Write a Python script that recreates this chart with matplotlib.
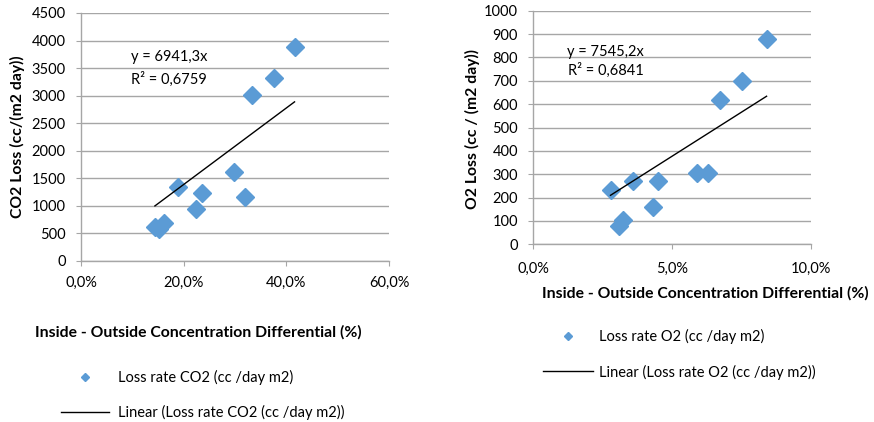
import matplotlib
matplotlib.use("Agg")
import matplotlib.pyplot as plt
from matplotlib.lines import Line2D
from matplotlib.ticker import FuncFormatter

plt.rcParams['font.family'] = ['Lato', 'DejaVu Sans']

# CO2 data (x: concentration differential fraction, y: loss cc/(m2 day))
co2_x = [0.416, 0.375, 0.334, 0.299, 0.319, 0.235, 0.224, 0.188, 0.161, 0.144, 0.152]
co2_y = [3890, 3327, 3013, 1621, 1168, 1228, 938, 1349, 690, 620, 580]
co2_slope = 6941.3
co2_eq = "y = 6941,3x"
co2_r2 = "R² = 0,6759"

# O2 data
o2_x = [0.0840, 0.0750, 0.0672, 0.0588, 0.0630, 0.0450, 0.0360, 0.0432, 0.0322, 0.0307, 0.0278]
o2_y = [877, 699, 618, 307, 307, 271, 271, 158, 104, 78, 233]
o2_slope = 7545.2
o2_eq = "y = 7545,2x"
o2_r2 = "R² = 0,6841"

co2_xticks = [0.0, 0.2, 0.4, 0.6]
co2_yticks = list(range(0, 4501, 500))
o2_xticks = [0.0, 0.05, 0.10]
o2_yticks = list(range(0, 1001, 100))

BLUE = '#5B9BD5'
GRID = '#A6A6A6'
W, H = 874, 422

fig = plt.figure(figsize=(W / 100, H / 100), dpi=100)

def px_axes(l, t, r, b):
    return fig.add_axes([l / W, 1 - b / H, (r - l) / W, (b - t) / H])

pct = FuncFormatter(lambda v, p: f"{v*100:.1f}%".replace('.', ','))

def style(ax, xticks, yticks, xpad):
    ax.set_xticks(xticks)
    ax.set_yticks(yticks)
    ax.set_xlim(xticks[0], xticks[-1])
    ax.set_ylim(yticks[0], yticks[-1])
    ax.xaxis.set_major_formatter(pct)
    ax.grid(axis='y', color=GRID, linewidth=1)
    ax.set_axisbelow(True)
    for s in ['top', 'right']:
        ax.spines[s].set_visible(False)
    for s in ['left', 'bottom']:
        ax.spines[s].set_color(GRID)
        ax.spines[s].set_linewidth(1)
    ax.tick_params(axis='both', direction='out', length=3.6, color=GRID,
                   labelsize=10.5, labelcolor='black')
    ax.tick_params(axis='y', pad=7.5)
    ax.tick_params(axis='x', pad=xpad)

LBL = 11.3

# Left chart (CO2)
ax1 = px_axes(81, 13, 389, 261)
style(ax1, co2_xticks, co2_yticks, 7)
ax1.plot(co2_x, co2_y, linestyle='none', marker='D', ms=9.5, color=BLUE, zorder=3)
xs = [min(co2_x), max(co2_x)]
ax1.plot(xs, [co2_slope * v for v in xs], color='black', linewidth=1, zorder=4)
ax1.text(0.0975, 3710, co2_eq, fontsize=10.5, va='center')
ax1.text(0.0975, 3290, co2_r2, fontsize=10.5, va='center')
fig.text(17 / W, 1 - 137 / H, "CO2 Loss (cc/(m2 day))", rotation=90, fontsize=LBL,
         fontweight='bold', ha='center', va='center')
fig.text(35 / W, 1 - 332 / H, "Inside - Outside Concentration Differential (%)",
         fontsize=LBL, fontweight='bold', ha='left', va='center')

# Right chart (O2)
ax2 = px_axes(533.3, 10.7, 811, 244.3)
style(ax2, o2_xticks, o2_yticks, 9)
ax2.plot(o2_x, o2_y, linestyle='none', marker='D', ms=9.5, color=BLUE, zorder=3)
xs = [min(o2_x), max(o2_x)]
ax2.plot(xs, [o2_slope * v for v in xs], color='black', linewidth=1, zorder=4)
ax2.text(0.0122, 822, o2_eq, fontsize=10.5, va='center')
ax2.text(0.0124, 745, o2_r2, fontsize=10.5, va='center')
fig.text(472 / W, 1 - 129.5 / H, "O2 Loss (cc / (m2 day))", rotation=90, fontsize=LBL,
         fontweight='bold', ha='center', va='center')
fig.text(542 / W, 1 - 293 / H, "Inside - Outside Concentration Differential (%)",
         fontsize=LBL, fontweight='bold', ha='left', va='center')

# Legends
def make_legend(label_pts, label_line, x0, y0, hl, pad, spacing):
    handles = [Line2D([], [], linestyle='none', marker='D', ms=4, color=BLUE),
               Line2D([], [], color='black', linewidth=1)]
    fig.legend(handles, [label_pts, label_line], loc='upper left',
               bbox_to_anchor=(x0 / W, 1 - y0 / H), frameon=False, borderpad=0,
               borderaxespad=0, handlelength=hl, handletextpad=pad,
               labelspacing=spacing, fontsize=10.5)

make_legend("Loss rate CO2 (cc /day m2)", "Linear (Loss rate CO2 (cc /day m2))",
            61, 370, 3.3, 0.62, 1.35)
make_legend("Loss rate O2 (cc /day m2)", "Linear (Loss rate O2 (cc /day m2))",
            543, 329, 3.4, 0.42, 1.4)

fig.savefig("out.png", dpi=100)
